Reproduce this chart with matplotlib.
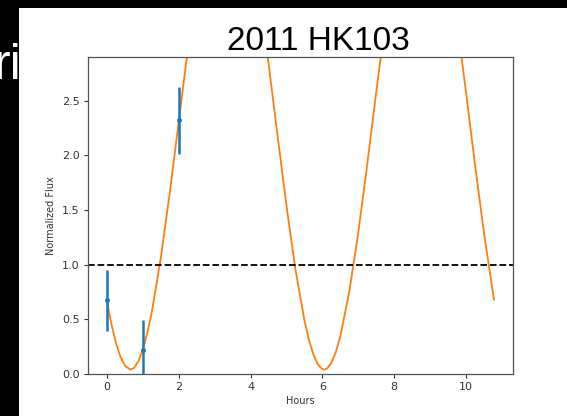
import matplotlib
matplotlib.use("Agg")
import matplotlib.pyplot as plt
from matplotlib.patches import Rectangle

# measured points with error bars
obs_hours = [0.0, 1.0, 2.0]
obs_flux = [0.675, 0.22, 2.32]
obs_err = [0.28, 0.27, 0.31]

# fitted light curve
fit_hours = [0.0, 0.125, 0.25, 0.375, 0.5, 0.65, 0.75, 0.875, 1.0, 1.125, 1.25,
             1.5, 1.75, 2.0, 2.25, 2.5, 2.75, 3.0, 3.25, 3.35, 3.5, 3.75, 4.0,
             4.25, 4.5, 4.75, 5.0, 5.25, 5.5, 5.625, 5.75, 5.875, 6.0, 6.05,
             6.125, 6.25, 6.375, 6.5, 6.75, 7.0, 7.25, 7.5, 7.75, 8.0, 8.25,
             8.5, 8.75, 9.0, 9.25, 9.5, 9.75, 10.0, 10.25, 10.5, 10.78]
fit_flux = [0.66, 0.451, 0.282, 0.156, 0.075, 0.04, 0.055, 0.118, 0.226, 0.379,
            0.572, 1.065, 1.663, 2.315, 2.968, 3.565, 4.058, 4.404, 4.575, 4.59,
            4.555, 4.348, 3.97, 3.453, 2.84, 2.183, 1.537, 0.955, 0.49, 0.313,
            0.177, 0.087, 0.044, 0.04, 0.049, 0.101, 0.201, 0.345, 0.754, 1.294,
            1.92, 2.579, 3.216, 3.777, 4.216, 4.494, 4.59, 4.494, 4.216, 3.777,
            3.216, 2.579, 1.92, 1.294, 0.68]

x_ticks = [0, 2, 4, 6, 8, 10]
y_ticks = [0.0, 0.5, 1.0, 1.5, 2.0, 2.5]

W, H = 567, 416
fig = plt.figure(figsize=(W / 100, H / 100), dpi=100, facecolor="black")

# slide text peeking out behind the pasted figure
fig.text(-6 / W, 1 - 79 / H, "ri", color="white", fontsize=36,
         family="Liberation Sans", ha="left", va="baseline", zorder=-2)
fig.patches.append(Rectangle((19 / W, 0), 1 - 19 / W, 1 - 8 / H,
                             transform=fig.transFigure, facecolor="white",
                             edgecolor="none", zorder=-1))

ax = fig.add_axes([88 / W, 42 / H, 425 / W, 317 / H])
ax.plot(fit_hours, fit_flux, color="#ff7f0e", lw=1.3)
ax.errorbar(obs_hours, obs_flux, yerr=obs_err, fmt=".", color="#1f77b4",
            ms=5, elinewidth=1.8)
ax.axhline(1.0, color="black", ls="--", lw=1.3)

ax.set_xlim(-0.53, 11.31)
ax.set_ylim(0, 2.9)
ax.set_xticks(x_ticks)
ax.set_yticks(y_ticks)
ax.set_xticklabels([str(v) for v in x_ticks])
ax.set_yticklabels(["%.1f" % v for v in y_ticks])
ax.tick_params(labelsize=8, colors="#333333", length=3, width=0.8, pad=3)
for s in ax.spines.values():
    s.set_color("#555555")
    s.set_linewidth(0.9)

ax.set_xlabel("Hours", fontsize=7, color="#333333", labelpad=3)
ax.set_ylabel("Normalized Flux", fontsize=7, color="#333333", labelpad=4)

fig.text(318.5 / W, 1 - 50.5 / H, "2011 HK103", fontsize=24,
         family="Liberation Sans", ha="center", va="baseline", color="black")

fig.savefig("out.png", dpi=100, facecolor="black")
